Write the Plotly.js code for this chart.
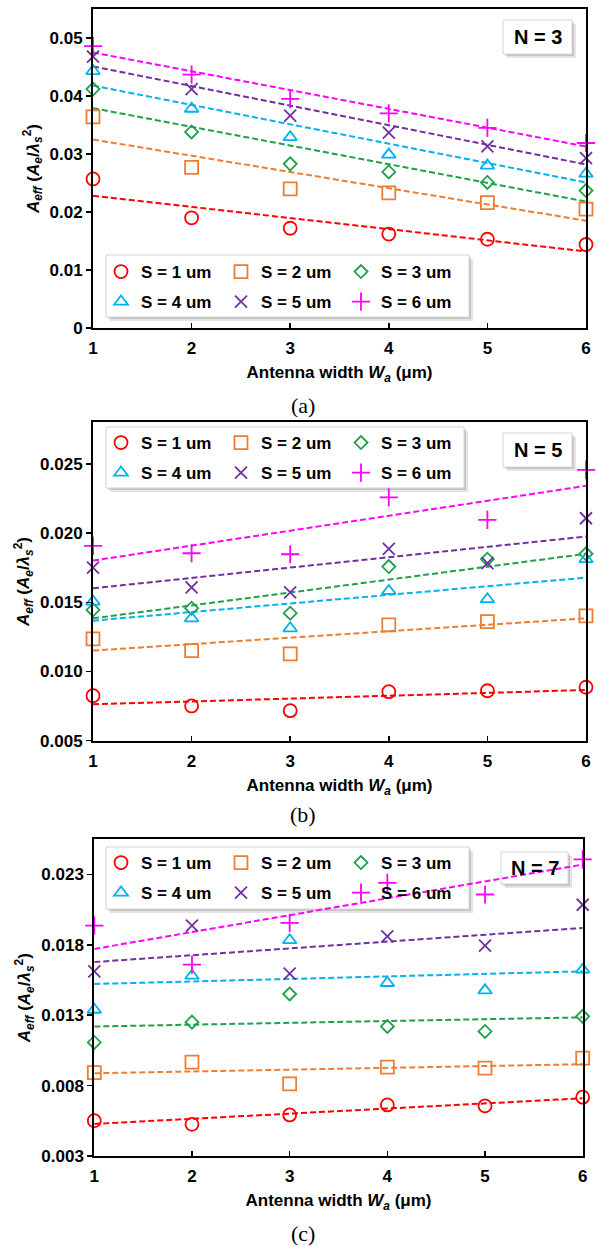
<!DOCTYPE html>
<html><head><meta charset="utf-8">
<script src="https://cdn.plot.ly/plotly-3.0.1.min.js"></script>
<style>html,body{margin:0;padding:0;background:#fff;}#chart{width:598px;height:1246px;}</style>
</head><body><div id="chart"></div>
<script>
// ---------------- data ----------------
const widths = [1, 2, 3, 4, 5, 6];
const seriesLabels = ['S = 1 um', 'S = 2 um', 'S = 3 um', 'S = 4 um', 'S = 5 um', 'S = 6 um'];
const panelNames = ['N = 3', 'N = 5', 'N = 7'];
const captions = ['(a)', '(b)', '(c)'];

// N = 3
const n3S1 = [0.0257, 0.0190, 0.0172, 0.0162, 0.0153, 0.0144];
const n3S2 = [0.0364, 0.0277, 0.0240, 0.0233, 0.0216, 0.0205];
const n3S3 = [0.0412, 0.0338, 0.0283, 0.0269, 0.0251, 0.0237];
const n3S4 = [0.0443, 0.0378, 0.0329, 0.0299, 0.0280, 0.0266];
const n3S5 = [0.0468, 0.0412, 0.0366, 0.0337, 0.0313, 0.0293];
const n3S6 = [0.0486, 0.0437, 0.0395, 0.0370, 0.0345, 0.0319];
const n3TrendStart = [0.0228, 0.0325, 0.0379, 0.0418, 0.0451, 0.0475];
const n3TrendEnd   = [0.0132, 0.0185, 0.0218, 0.0251, 0.0282, 0.0313];

// N = 5
const n5S1 = [0.00825, 0.00751, 0.00717, 0.00854, 0.00861, 0.00886];
const n5S2 = [0.01235, 0.01151, 0.01127, 0.01336, 0.01360, 0.01401];
const n5S3 = [0.01445, 0.01457, 0.01421, 0.01758, 0.01811, 0.01850];
const n5S4 = [0.01505, 0.01384, 0.01312, 0.01582, 0.01522, 0.01811];
const n5S5 = [0.01751, 0.01608, 0.01572, 0.01886, 0.01782, 0.02107];
const n5S6 = [0.01907, 0.01854, 0.01847, 0.02257, 0.02095, 0.02457];
const n5TrendStart = [0.00763, 0.01151, 0.01384, 0.01367, 0.01601, 0.01801];
const n5TrendEnd   = [0.00866, 0.01384, 0.01850, 0.01678, 0.01975, 0.02341];

// N = 7
const n7S1 = [0.00551, 0.00525, 0.00592, 0.00663, 0.00656, 0.00718];
const n7S2 = [0.00893, 0.00967, 0.00813, 0.00931, 0.00924, 0.00995];
const n7S3 = [0.01107, 0.01251, 0.01451, 0.01220, 0.01185, 0.01292];
const n7S4 = [0.01339, 0.01581, 0.01833, 0.01529, 0.01477, 0.01624];
const n7S5 = [0.01612, 0.01937, 0.01595, 0.01861, 0.01795, 0.02085];
const n7S6 = [0.01937, 0.01660, 0.01956, 0.02240, 0.02158, 0.02407];
const n7TrendStart = [0.00528, 0.00888, 0.01220, 0.01522, 0.01678, 0.01771];
const n7TrendEnd   = [0.00710, 0.00952, 0.01285, 0.01612, 0.01920, 0.02371];

// ---------------- styles / geometry ----------------
const FONT = 'Liberation Sans, Arial, sans-serif';
const colors = ['#FF0000', '#ED7D31', '#1FA04A', '#00B0F0', '#7030A0', '#FF00FF'];
const symbols = ['circle-open', 'square-open', 'diamond-open', 'triangle-up-open', 'x-thin-open', 'cross-thin-open'];
const sizes = [13, 13, 10, 12, 12, 13];

const W = 598, H = 1246, M = {l: 93, r: 12, t: 9, b: 90};
const pw = W - M.l - M.r, ph = H - M.t - M.b;
const px2x = px => (px - M.l) / pw;
const px2y = py => (H - M.b - py) / ph;

// per-panel pixel geometry (legend box, two legend rows, N box, caption)
const geo = [
  {legBox: [106, 255, 469, 317], rows: [272, 302], nBox: [503, 20, 572, 54], capY: 405},
  {legBox: [106, 427, 464, 488], rows: [443, 473], nBox: [503, 433, 572, 467], capY: 815},
  {legBox: [106, 847, 469, 909], rows: [863, 893], nBox: [501, 852, 568, 884], capY: 1233}
];

const panels = [
  {series: [n3S1, n3S2, n3S3, n3S4, n3S5, n3S6], start: n3TrendStart, end: n3TrendEnd, xa: 'x', ya: 'y'},
  {series: [n5S1, n5S2, n5S3, n5S4, n5S5, n5S6], start: n5TrendStart, end: n5TrendEnd, xa: 'x2', ya: 'y2'},
  {series: [n7S1, n7S2, n7S3, n7S4, n7S5, n7S6], start: n7TrendStart, end: n7TrendEnd, xa: 'x3', ya: 'y3'}
];

const traces = [];
panels.forEach((p, pi) => {
  p.series.forEach((vals, k) => {
    traces.push({
      x: [widths[0], widths[widths.length - 1]], y: [p.start[k], p.end[k]],
      xaxis: p.xa, yaxis: p.ya, mode: 'lines', showlegend: false, hoverinfo: 'skip',
      line: {color: colors[k], width: 2, dash: '6px,3px'}
    });
  });
  p.series.forEach((vals, k) => {
    const legId = 'legend' + (pi * 2 + (k < 3 ? 1 : 2) === 1 ? '' : (pi * 2 + (k < 3 ? 1 : 2)));
    traces.push({
      x: widths, y: vals, xaxis: p.xa, yaxis: p.ya, mode: 'markers', name: seriesLabels[k],
      legend: legId, cliponaxis: false,
      marker: {symbol: symbols[k], size: sizes[k], color: colors[k], line: {color: colors[k], width: 1.8}}
    });
  });
});

const yTitle = '<i>A</i><sub><i>eff</i></sub> (<i>A</i><sub><i>e</i></sub>/<i>λ</i><sub><i>s</i></sub><sup>2</sup>)';
const xTitle = 'Antenna width <i>W</i><sub><i>a</i></sub> (μm)';
const boldFont = size => ({family: FONT, size: size, color: '#000', weight: 'bold'});

function xAxis(domain, anchor) {
  return {
    domain: domain, anchor: anchor, range: [1, 6], tick0: 1, dtick: 1,
    showline: true, mirror: true, linecolor: '#000', linewidth: 2,
    showgrid: false, zeroline: false, ticks: 'inside', ticklen: 5, tickwidth: 1.5, tickcolor: '#000',
    ticklabelstandoff: 4,
    tickfont: boldFont(17),
    title: {text: xTitle, font: boldFont(17), standoff: 9}
  };
}
function yAxis(domain, anchor, range, tick0, dtick, fmt) {
  return {
    domain: domain, anchor: anchor, range: range, tick0: tick0, dtick: dtick, tickformat: fmt,
    showline: true, mirror: true, linecolor: '#000', linewidth: 2,
    showgrid: false, zeroline: false, ticks: 'outside', ticklen: 5, tickwidth: 1.5, tickcolor: '#000',
    tickfont: boldFont(17),
    title: {text: yTitle, font: boldFont(17), standoff: 6}
  };
}
function legendRow(py) {
  return {
    orientation: 'h', x: px2x(101), y: px2y(py), xanchor: 'left', yanchor: 'middle',
    bgcolor: 'rgba(0,0,0,0)', borderwidth: 0,
    entrywidth: 75, entrywidthmode: 'pixels',
    font: boldFont(17)
  };
}

const shapes = [];
function boxWithShadow(b) {
  const [x0, y0, x1, y1] = b;
  shapes.push({type: 'rect', xref: 'paper', yref: 'paper', layer: 'below',
    x0: px2x(x0 + 4), x1: px2x(x1 + 4), y0: px2y(y0 + 4), y1: px2y(y1 + 4),
    fillcolor: 'rgba(0,0,0,0.10)', line: {width: 0}});
  shapes.push({type: 'rect', xref: 'paper', yref: 'paper', layer: 'below',
    x0: px2x(x0 + 2), x1: px2x(x1 + 2), y0: px2y(y0 + 2), y1: px2y(y1 + 2),
    fillcolor: 'rgba(0,0,0,0.14)', line: {width: 0}});
  shapes.push({type: 'rect', xref: 'paper', yref: 'paper', layer: 'below',
    x0: px2x(x0), x1: px2x(x1), y0: px2y(y0), y1: px2y(y1),
    fillcolor: '#fff', line: {color: '#D4D4D4', width: 1}});
}
geo.forEach(g => { boxWithShadow(g.legBox); boxWithShadow(g.nBox); });

const annotations = [];
panelNames.forEach((t, i) => {
  const b = geo[i].nBox;
  annotations.push({
    text: t, showarrow: false, xref: 'paper', yref: 'paper',
    x: px2x((b[0] + b[2]) / 2), y: px2y((b[1] + b[3]) / 2),
    xanchor: 'center', yanchor: 'middle', font: boldFont(20)
  });
});
captions.forEach((c, i) => annotations.push({
  text: c, showarrow: false, xref: 'paper', yref: 'paper', x: px2x(303), y: px2y(geo[i].capY),
  xanchor: 'center', yanchor: 'middle',
  font: {family: 'Liberation Serif, Times New Roman, serif', size: 22, color: '#000'}
}));

const layout = {
  width: W, height: H, margin: M,
  paper_bgcolor: '#fff', plot_bgcolor: '#fff',
  font: {family: FONT, size: 16, color: '#000'},
  showlegend: true,
  xaxis: xAxis([0, 1], 'y'),
  yaxis: yAxis([px2y(328), px2y(9)], 'x', [0, 0.055], 0, 0.01, ''),
  xaxis2: xAxis([0, 1], 'y2'),
  yaxis2: yAxis([px2y(740.7), px2y(422.3)], 'x2', [0.005, 0.028], 0.005, 0.005, '.3f'),
  xaxis3: xAxis([px2x(94.3), px2x(582.7)], 'y3'),
  yaxis3: yAxis([px2y(1156), px2y(839.3)], 'x3', [0.003, 0.0255], 0.003, 0.005, '.3f'),
  shapes: shapes,
  annotations: annotations
};
geo.forEach((g, i) => {
  layout['legend' + (i * 2 + 1 === 1 ? '' : i * 2 + 1)] = legendRow(g.rows[0]);
  layout['legend' + (i * 2 + 2)] = legendRow(g.rows[1]);
});

Plotly.newPlot('chart', traces, layout, {displayModeBar: false, staticPlot: true});
</script>
</body></html>
